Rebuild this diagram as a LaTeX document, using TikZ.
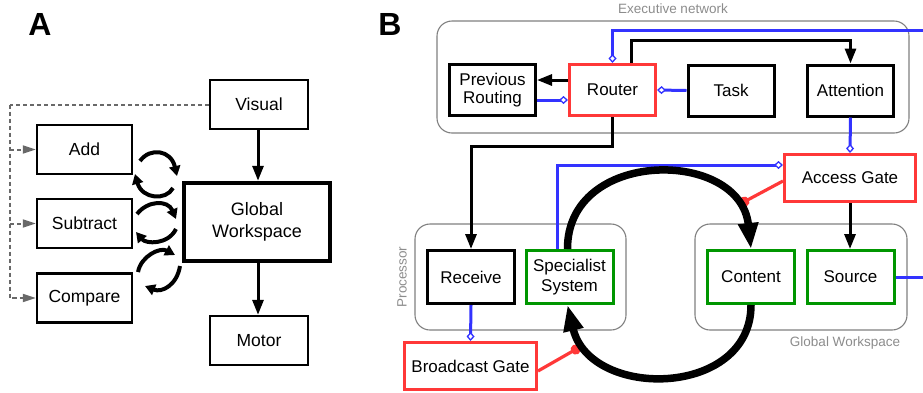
\documentclass[tikz,border=0pt]{standalone}
\usepackage{fontspec}
\setmainfont{Liberation Sans}
\usetikzlibrary{arrows.meta,calc}
\definecolor{gateRed}{RGB}{255,56,56}
\definecolor{linkBlue}{RGB}{51,51,255}
\definecolor{specGreen}{RGB}{0,150,0}
\definecolor{frameGray}{RGB}{128,128,128}
\definecolor{labelGray}{RGB}{140,140,140}
\definecolor{dashGray}{RGB}{105,105,105}

\begin{document}
\begin{tikzpicture}[x=1pt,y=-1pt,
  every node/.style={font=\fontsize{17.5}{20}\selectfont, align=center, inner sep=0pt},
  % panel A boxes
  abox/.style={draw, line width=2.4pt, minimum width=95pt, minimum height=49pt},
  wsbox/.style={draw, line width=4.5pt, minimum width=146pt, minimum height=78pt,
    font=\fontsize{18}{22}\selectfont},
  % panel B boxes
  bfont/.style={font=\fontsize{17}{20}\selectfont},
  bbox/.style={draw, line width=3pt, minimum width=86pt, minimum height=51pt, bfont},
  pbox/.style={bbox, minimum width=87pt, minimum height=53pt},
  gatebox/.style={draw=gateRed, line width=3pt, minimum width=131pt, minimum height=47pt, bfont},
  redbox/.style={bbox, draw=gateRed},
  greenbox/.style={pbox, draw=specGreen},
  frame/.style={draw=frameGray, line width=1.1pt, rounded corners=15pt},
  graylabel/.style={text=labelGray, font=\fontsize{13.5}{16}\selectfont},
  panel/.style={font=\fontsize{32}{36}\selectfont\bfseries},
  % connectors
  blkarrow/.style={line width=3pt, -{Triangle[length=15pt,width=11pt]}},
  feedback/.style={line width=4pt, -{Triangle[length=10pt,width=11pt]}},
  cue/.style={draw=dashGray, line width=2pt, dash pattern=on 4pt off 3pt},
  cuearrow/.style={cue, -{Triangle[length=13pt,width=8pt,fill=dashGray,color=dashGray]}},
  blueline/.style={draw=linkBlue, line width=3pt},
  bluegate/.style={blueline, -{Diamond[length=9pt,width=8pt,line width=1.3pt,fill=white,color=linkBlue]}},
  redline/.style={draw=gateRed, line width=3.2pt, -{Circle[length=10pt,width=10pt,fill=gateRed,color=gateRed]}},
  loop/.style={line width=7.5pt, -{Triangle[length=26pt,width=19pt]}},
]
\useasboundingbox (0,0) rectangle (923,392);

% ---------------- Panel A ----------------
\node[panel] (labA) at (40,24) {A};

\node[abox, minimum width=98pt] (visual) at (259,104.5) {Visual};
\node[wsbox] (gws) at (257,222) {Global\\Workspace};
\node[abox, minimum width=98pt] (motor) at (259,340.5) {Motor};
\node[abox] (add) at (84.5,149.5) {Add};
\node[abox] (sub) at (84.5,223.5) {Subtract};
\node[abox] (cmp) at (84.5,298) {Compare};

\draw[blkarrow] (visual.south -| 258,0) -- (gws.north -| 258,0);
\draw[blkarrow] (gws.south -| 258,0) -- (motor.north -| 258,0);

% dashed cue lines from Visual to the operations
\coordinate (cuebend) at (10,104.5);
\draw[cue] (visual.west) -- (cuebend);
\draw[cuearrow] (cuebend) |- (cmp.west);
\draw[cuearrow] (cuebend |- add.west) -- (add.west);
\draw[cuearrow] (cuebend |- sub.west) -- (sub.west);

% exchange loops between operations and the workspace
\draw[feedback] (140,161) .. controls (150,147) and (171,150) .. (177,176);
\draw[feedback] (173,188) .. controls (166,201) and (142,199) .. (135,174);
\draw[feedback] (137,214) .. controls (148,200) and (168,200) .. (176,219);
\draw[feedback] (176,229) .. controls (168,245) and (146,244) .. (136,232);
\draw[feedback] (138,272) .. controls (141,256) and (160,247) .. (175,255);
\draw[feedback] (180,266) .. controls (177,285) and (162,293) .. (145,286);

% ---------------- Panel B ----------------
\node[panel] (labB) at (390,24) {B};

% executive network
\draw[frame] (437,21) rectangle (909,133);
\node[graylabel] (execlab) at (673,9) {Executive network};
\node[bbox, font=\fontsize{17}{18.5}\selectfont] (prev) at (492.5,90) {Previous\\Routing};
\node[redbox] (router) at (612.5,90) {Router};
\node[bbox] (task) at (731,90.5) {Task};
\node[bbox] (attn) at (850.5,90.5) {Attention};

% processor
\draw[frame] (415,224) rectangle (626,330);
\node[graylabel, rotate=90] (proclab) at (402,277) {Processor};
\node[pbox] (receive) at (471,277) {Receive};
\node[greenbox] (spec) at (569.5,277) {Specialist\\System};

% global workspace
\draw[frame] (695,224) rectangle (907,330);
\node[graylabel] (gwlab) at (845,343) {Global Workspace};
\node[greenbox] (content) at (751,277) {Content};
\node[greenbox] (source) at (850.5,277) {Source};

% gates
\node[gatebox] (access) at (850,178) {Access Gate};
\node[gatebox, minimum width=132pt] (bcast) at (470.5,366) {Broadcast Gate};

% edge points off to the right
\coordinate (outtop) at (923,30);
\coordinate (outsrc) at (923,278);
\coordinate (dotA) at (740,204);
\coordinate (dotB) at (580,347);

% executive connections
\draw[blkarrow] ($(router.west)+(0,-10)$) -- ($(prev.east)+(0,-10)$);
\draw[bluegate] ($(prev.east)+(0,10)$) -- ($(router.west)+(0,10)$);
\draw[bluegate] (task.west) -- (router.east);
\draw[bluegate] (outtop) -- (router.north |- outtop) -- (router.north);
\draw[blkarrow] ($(router.north)+(19,0)$) -- ++(0,-23) -| (attn.north);
\draw[blkarrow] (router.south) -- ++(0,29) -| (receive.north);
\draw[bluegate] (attn.south) -- (access.north);

% gating connections
\draw[bluegate] ($(spec.north)+(-12.5,0)$) |- ($(access.west)+(0,-13)$);
\draw[redline] ($(access.west)+(0,3)$) -- (dotA);
\draw[blkarrow] (access.south) -- (source.north -| access.south);
\draw[blueline] (source.east) -- (source.east -| outsrc);
\draw[bluegate] (receive.south) -- (bcast.north);
\draw[redline] ($(bcast.east)+(0,5)$) -- (dotB);

% specialist / workspace loop
\draw[loop] ($(spec.north)+(-2,0)$) .. controls (567,148) and (740,148) .. (content.north);
\draw[loop] (content.south) .. controls (751,398) and (590,400) .. ($(spec.south)+(-2,0)$);
\end{tikzpicture}
\end{document}
